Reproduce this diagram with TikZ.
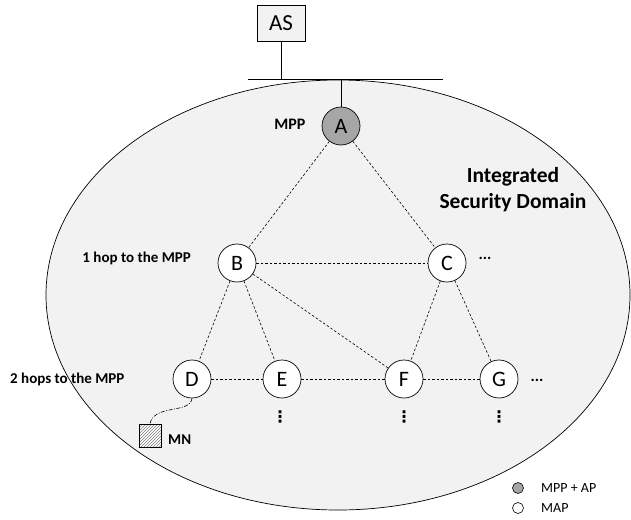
\documentclass[tikz,border=0pt]{standalone}
\usepackage{fontspec}
\setmainfont{Carlito}
\newfontfamily\symbolfont{DejaVu Sans}
\usetikzlibrary{patterns}
\definecolor{domainfill}{HTML}{F2F2F2}
\definecolor{mppfill}{HTML}{A6A6A6}
\begin{document}
\begin{tikzpicture}[x=1pt,y=-1pt,
  station/.style={circle,draw,line width=0.7pt,fill=white,minimum size=38pt,inner sep=0pt,
    font=\fontsize{22}{22}\selectfont},
  link/.style={dash pattern=on 2.5pt off 2pt,line width=0.6pt},
  wire/.style={line width=0.8pt},
  lbl/.style={font=\bfseries\fontsize{15}{16}\selectfont,inner sep=0pt},
  legendtext/.style={font=\fontsize{14}{16}\selectfont,anchor=west,inner sep=0pt},
  legendmark/.style={circle,draw,line width=0.6pt,minimum size=11pt,inner sep=0pt},
  more/.style={font=\bfseries\fontsize{16}{16}\selectfont,inner sep=0pt},
  vmore/.style={font=\symbolfont\bfseries\fontsize{16}{16}\selectfont,inner sep=0pt}]
\useasboundingbox (0,0) rectangle (631,519);

% security domain
\draw[fill=domainfill,line width=0.7pt] (338,295) ellipse [x radius=292,y radius=215];

% authentication server and backbone
\node[draw,fill=domainfill,line width=0.7pt,minimum width=48pt,minimum height=36pt,inner sep=0pt,
  font=\fontsize{23}{23}\selectfont] (AS) at (281,23) {AS};
\coordinate (busL) at (248,79);
\coordinate (busR) at (443,79);
\coordinate (busAS) at (281,79);
\coordinate (busA) at (341,79);
\draw[wire] (busL) -- (busR);
\draw[wire] (AS.south) -- (busAS);

% mesh stations
\node[station,fill=mppfill] (A) at (341,126) {A};
\node[station] (B) at (237,263) {B};
\node[station] (C) at (447,263) {C};
\node[station] (D) at (192,379) {D};
\node[station] (E) at (282,379) {E};
\node[station] (F) at (404,379) {F};
\node[station] (G) at (499,379) {G};
\draw[wire] (busA) -- (A.north);

% mesh links
\foreach \u/\v in {A/B,A/C,B/C,B/D,B/E,B/F,C/F,C/G,D/E,E/F,F/G}
  \draw[link] (\u) -- (\v);

% mobile node
\fill[white] (139,424) rectangle (161,447);
\node[draw,line width=0.6pt,pattern=north east lines,pattern color=gray,minimum width=22pt,
  minimum height=23pt,inner sep=0pt] (MN) at (150,435.5) {};
\draw[line width=0.6pt,dash pattern=on 4pt off 1.5pt on 1pt off 1.5pt]
  (D.south) .. controls (190,414) and (154,404) .. (MN.north);

% labels
\node[lbl,font=\bfseries\fontsize{16}{16}\selectfont] (lmpp) at (290,124) {MPP};
\node[lbl,anchor=east] (lhop1) at (191,258) {1 hop to the MPP};
\node[lbl,anchor=west] (lhop2) at (10,379) {2 hops to the MPP};
\node[lbl,anchor=west] (lmn) at (168,440) {MN};
\node[font=\bfseries\fontsize{21.5}{26}\selectfont,align=center,inner sep=0pt] (ldom) at (513,190)
  {Integrated\\Security Domain};

% continuation marks
\node[more] (cmore) at (485,258) {...};
\node[more] (gmore) at (537,380) {...};
\node[vmore] (evd) at (280,417) {⋮};
\node[vmore] (fvd) at (404,417) {⋮};
\node[vmore] (gvd) at (499,417) {⋮};

% legend
\node[legendmark,fill=mppfill] (k1) at (518,488) {};
\node[legendmark,fill=white] (k2) at (518,508) {};
\node[legendtext] (k1t) at (541,488) {MPP + AP};
\node[legendtext] (k2t) at (541,508) {MAP};
\end{tikzpicture}
\end{document}
